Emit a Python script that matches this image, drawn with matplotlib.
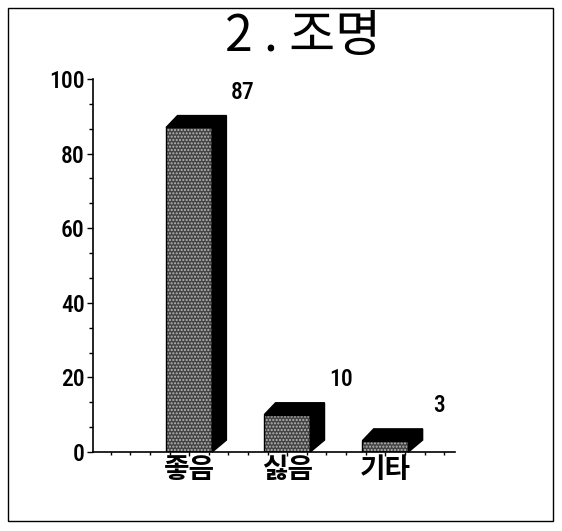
import matplotlib
matplotlib.use("Agg")
import matplotlib.pyplot as plt
from matplotlib.patches import Polygon, Rectangle
from matplotlib.ticker import MultipleLocator
from matplotlib import font_manager

plt.rcParams['font.family'] = ['Noto Sans CJK KR', 'DejaVu Sans']

names = {f.name for f in font_manager.fontManager.ttflist}
if 'Roboto Condensed' in names:
    numfont = dict(family=['Roboto Condensed'], fontweight='medium')
else:
    numfont = dict(family=['DejaVu Sans'], stretch='condensed')

title = "2.조명"
categories = ["좋음", "싫음", "기타"]
values = [87, 10, 3]
yticks = [0, 20, 40, 60, 80, 100]

W, H = 562, 531
fig = plt.figure(figsize=(W / 100, H / 100), dpi=100)
fig.patch.set_facecolor('white')
ax = fig.add_axes([93 / W, (H - 452) / H, (455 - 93) / W, (452 - 79) / H])

# outer frame
fig.add_artist(Rectangle((8 / W, (H - 521) / H), (553 - 8) / W, (521 - 8) / H,
                         transform=fig.transFigure, fill=False, edgecolor='black', lw=1))

bw = 0.47
dx, dy = 0.145, 3.2
xs = list(range(len(categories)))
for x, v in zip(xs, values):
    x0, x1 = x - bw / 2, x + bw / 2
    ax.bar(x, v, width=bw, color='#444444', edgecolor='none', zorder=2)
    ax.bar(x, v, width=bw, color='none', edgecolor='#b8b8b8', hatch='.....', lw=0, zorder=3)
    ax.bar(x, v, width=bw, color='none', edgecolor='black', lw=1, zorder=4)
    # side face
    ax.add_patch(Polygon([(x1, 0), (x1 + dx, dy), (x1 + dx, v + dy), (x1, v)],
                         closed=True, facecolor='black', edgecolor='black', zorder=4, clip_on=False))
    # top face (bevelled)
    ax.add_patch(Polygon([(x0, v), (x0 + dx * 0.8, v + dy), (x1 + dx, v + dy), (x1, v)],
                         closed=True, facecolor='black', edgecolor='black', zorder=4, clip_on=False))
    ax.text(x + 0.55, v + 9.5, str(v), ha='center', va='center', fontsize=17, **numfont)

ax.set_xlim(-0.98, 2.71)
ax.set_ylim(0, 100)
ax.set_yticks(yticks)
ax.set_yticklabels([str(t) for t in yticks], fontsize=17, **numfont)
ax.yaxis.set_minor_locator(MultipleLocator(20 / 3))
ax.set_xticks(xs)
ax.set_xticklabels(categories, fontsize=20, fontweight='bold')
ax.xaxis.set_minor_locator(MultipleLocator(0.2))
ax.tick_params(axis='y', which='major', length=4, width=1, direction='out', pad=2)
ax.tick_params(axis='y', which='minor', length=3, width=1, direction='out')
ax.tick_params(axis='x', which='major', length=3, width=1, direction='out', pad=0)
ax.tick_params(axis='x', which='minor', length=2, width=1, direction='out')
for s in ['top', 'right']:
    ax.spines[s].set_visible(False)
for s in ['left', 'bottom']:
    ax.spines[s].set_linewidth(1.2)

fig.text(303 / W, (H - 37) / H, "2 . 조명", ha='center', va='center', fontsize=36)

fig.savefig("out.png", dpi=100)
